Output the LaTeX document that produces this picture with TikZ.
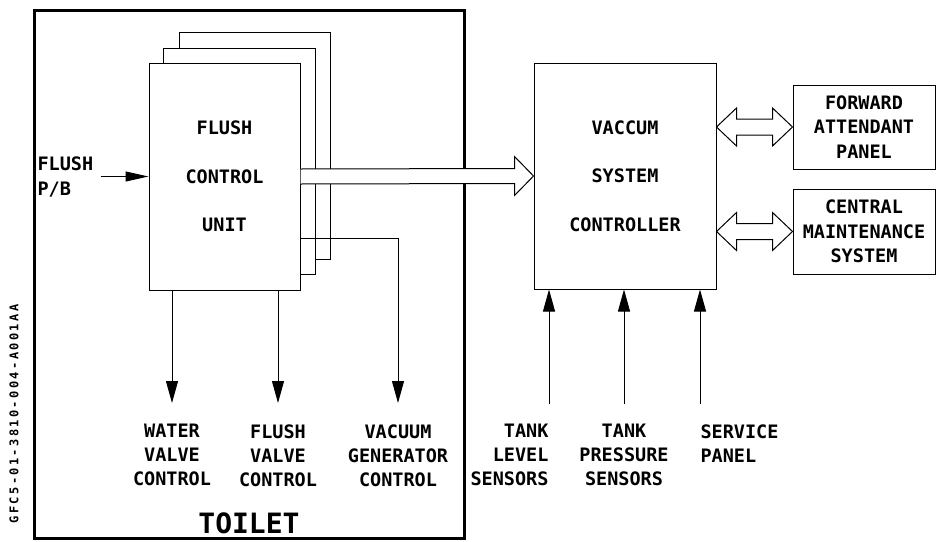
\documentclass[tikz,border=0pt]{standalone}
\usepackage{fontspec}
\newfontfamily\lblfont{DejaVu Sans Mono}
\newfontfamily\codefont{DejaVu Sans Mono}[LetterSpace=20]
\usetikzlibrary{calc,arrows.meta}
\begin{document}
\begin{tikzpicture}[x=1pt,y=-1pt,line width=1pt,
  lbl/.style={font={\lblfont\bfseries\fontsize{18.5}{24}\selectfont},inner sep=0pt,align=center},
  blk/.style={draw,fill=white,inner sep=0pt,align=center},
  bigtxt/.style={font={\lblfont\bfseries\fontsize{18.5}{48.5}\selectfont}},
  smalltxt/.style={font={\lblfont\bfseries\fontsize{18.5}{24.5}\selectfont}},
  arr/.style={-{Triangle[length=22pt,width=12pt]}},
  hollow/.style={draw,fill=white,line width=1pt}]
\useasboundingbox (0,0) rectangle (936,541);
% toilet frame
\draw[line width=3pt] (34.5,10) rectangle (464,538.5);
% stacked flush control units
\node[blk,minimum width=151pt,minimum height=227pt] (fcu3) at (254.5,145.5) {};
\node[blk,minimum width=152pt,minimum height=226pt] (fcu2) at (239.5,161) {};
\node[blk,bigtxt,minimum width=151pt,minimum height=227pt] (fcu) at (224.5,176.5) {FLUSH\\CONTROL\\UNIT};
% vacuum system controller and panels
\node[blk,bigtxt,minimum width=182pt,minimum height=226pt] (vsc) at (625,176) {VACCUM\\SYSTEM\\CONTROLLER};
\node[blk,smalltxt,minimum width=142pt,minimum height=84pt] (fap) at (864,127) {FORWARD\\ATTENDANT\\PANEL};
\node[blk,smalltxt,minimum width=142pt,minimum height=85pt] (cms) at (864,231.5) {CENTRAL\\MAINTENANCE\\SYSTEM};
% labels
\node[lbl,anchor=north] (wv) at (172,424) {WATER\\VALVE\\CONTROL};
\node[lbl,anchor=north] (fv) at (278,424) {FLUSH\\VALVE\\CONTROL};
\node[lbl,anchor=north] (vg) at (398,424) {VACUUM\\GENERATOR\\CONTROL};
\node[lbl,anchor=north east,align=right] (tl) at (549,424) {TANK\\LEVEL\\SENSORS};
\node[lbl,anchor=north] (tp) at (624,424) {TANK\\PRESSURE\\SENSORS};
\node[lbl,anchor=north west,align=left] (sp) at (700,424) {SERVICE\\PANEL};
\node[lbl,anchor=north west,align=left,font={\lblfont\bfseries\fontsize{18.5}{25}\selectfont}] (pb) at (37,156.5) {FLUSH\\P/B};
\node[inner sep=0pt,font={\lblfont\bfseries\fontsize{28}{30}\selectfont}] (toilet) at (249,523) {TOILET};
\node[inner sep=0pt,rotate=90,font={\codefont\bfseries\fontsize{12}{12}\selectfont}] (code) at (14,414) {GFC5-01-3810-004-A001AA};
% connectors from flush control unit
\draw[-{Triangle[length=23pt,width=10pt]}] ([xshift=7pt]pb.east |- fcu.west) -- (fcu.west);
\draw[arr] (fcu.south -| wv.north) -- ([yshift=21pt]wv.north);
\draw[arr] (fcu.south -| fv.north) -- ([yshift=21pt]fv.north);
\draw[arr] (fcu.east |- 0,238) -- (vg.north |- 0,238) -- ([yshift=21pt]vg.north);
% sensors into controller
\draw[arr] ([yshift=20pt]tl.north east) -- (tl.north east |- vsc.south);
\draw[arr] ([yshift=20pt]tp.north) -- (tp.north |- vsc.south);
\draw[arr] ([yshift=20pt]sp.north west) -- (sp.north west |- vsc.south);
% hollow arrow FCU -> VSC
\path[hollow] ($(fcu.east)+(0,-7.5)$) -- ($(vsc.west)+(-19,-7.5)$) -- ($(vsc.west)+(-19,-19.5)$)
  -- (vsc.west) -- ($(vsc.west)+(-19,19.5)$) -- ($(vsc.west)+(-19,7.5)$) -- ($(fcu.east)+(0,7.5)$);
% double hollow arrows
\coordinate (a1) at (vsc.east |- fap.west);
\path[hollow] (a1) -- ++(20,-19) -- ++(0,11) -- ($(fap.west)+(-20,-8)$) -- ++(0,-11) -- (fap.west)
  -- ++(-20,19) -- ++(0,-11) -- ($(a1)+(20,8)$) -- ++(0,11) -- cycle;
\coordinate (a2) at (vsc.east |- cms.west);
\path[hollow] (a2) -- ++(20,-19) -- ++(0,11) -- ($(cms.west)+(-20,-8)$) -- ++(0,-11) -- (cms.west)
  -- ++(-20,19) -- ++(0,-11) -- ($(a2)+(20,8)$) -- ++(0,11) -- cycle;
\end{tikzpicture}
\end{document}
